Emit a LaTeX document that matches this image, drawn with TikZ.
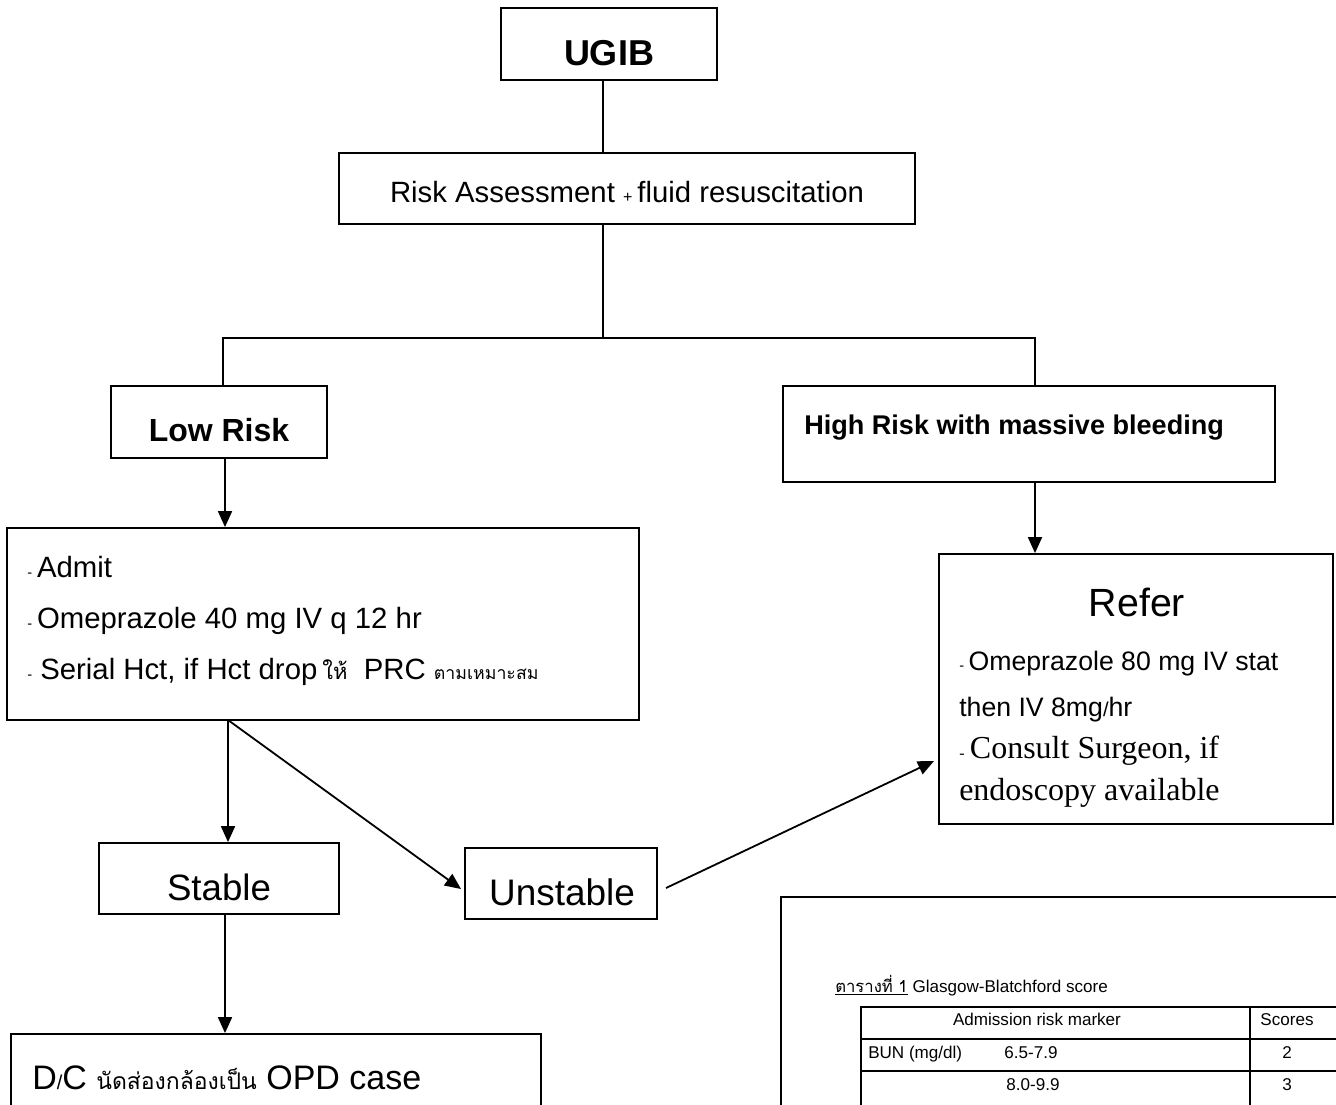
\documentclass[tikz,border=0pt]{standalone}
\usepackage{fontspec}
\setmainfont{Liberation Sans}
\newfontfamily\serifface{Liberation Serif}
\newfontfamily\thai[Script=Thai]{Loma}
\usetikzlibrary{arrows.meta,fit,calc}
\newcommand\sdash{{\fontsize{11}{11}\selectfont -}}
\newcommand\sslash{{\fontsize{15}{15}\selectfont /}}
\newcommand\splus{{\fontsize{12}{12}\selectfont +}}
\begin{document}
\begin{tikzpicture}[x=0.75pt,y=-0.75pt,
  box/.style={draw,line width=1.35pt,inner sep=0pt},
  tbox/.style={draw,line width=1.8pt,inner sep=0pt},
  conn/.style={line width=1.35pt},
  thin/.style={line width=0.8pt},
  arr/.style={line width=1.35pt,-{Triangle[length=12pt,width=10.5pt]}},
  txt/.style={inner sep=0pt,anchor=base},
  ltxt/.style={inner sep=0pt,anchor=base west},
  fa/.style={font=\fontsize{22}{26}\selectfont},
  fr/.style={font=\fontsize{20}{24}\selectfont},
  ft/.style={font=\fontsize{12.8}{15}\selectfont}]
\useasboundingbox (0,0) rectangle (1336,1104);
\clip (0,0) rectangle (1336,1104);
% boxes
\node[box,fit={(501,8)(717,80)}] (ugib) {};
\node[box,fit={(339,153)(915,224)}] (risk) {};
\node[box,fit={(111,386)(327,458)}] (low) {};
\node[box,fit={(783,386)(1275,482)}] (high) {};
\node[box,fit={(7,528)(639,720)}] (admit) {};
\node[box,fit={(939,554)(1333,824)}] (refer) {};
\node[box,fit={(99,843)(339,914)}] (stable) {};
\node[box,fit={(465,848)(657,919)}] (unst) {};
\node[box,fit={(11,1034)(541,1130)}] (dc) {};
\node[tbox,fit={(781,897)(1360,1130)}] (tab) {};
% texts
\node[txt,font=\fontsize{27}{32}\selectfont\bfseries] (tugib) at (609,65) {UGIB};
\node[txt,fa] (trisk) at (627,202) {Risk Assessment \splus\,fluid resuscitation};
\node[txt,font=\fontsize{24}{28}\selectfont\bfseries] (tlow) at (219,441) {Low Risk};
\node[ltxt,font=\fontsize{20.3}{24}\selectfont\bfseries] (thigh) at (804,434) {High Risk with massive bleeding};
\node[ltxt,fa] (ta1) at (27,577) {\sdash\,Admit};
\node[ltxt,fa] (ta2) at (27,628) {\sdash\,Omeprazole 40 mg IV q 12 hr};
\node[ltxt,fa] (ta3) at (27,679) {\sdash\ Serial Hct, if Hct drop\,{\thai\fontsize{16.5}{20}\selectfont ให้}\ \ PRC {\thai\fontsize{13.3}{16}\selectfont ตามเหมาะสม}};
\node[txt,font=\fontsize{29.5}{34}\selectfont] (trefer) at (1137,616) {Refer};
\node[ltxt,fr] (tr1) at (959,670) {\sdash\,Omeprazole 80 mg IV stat};
\node[ltxt,fr] (tr2) at (959,716) {then IV 8mg\sslash hr};
\node[ltxt,font=\fontsize{24}{28}\selectfont\serifface] (tr3) at (959,758) {{\fontsize{12}{12}\selectfont -}\,Consult Surgeon, if};
\node[ltxt,font=\fontsize{24}{28}\selectfont\serifface] (tr4) at (959,800) {endoscopy available};
\node[txt,font=\fontsize{27.5}{32}\selectfont] (tstable) at (219,900) {Stable};
\node[txt,font=\fontsize{27.7}{32}\selectfont] (tunst) at (562,905) {Unstable};
\node[ltxt,font=\fontsize{25.5}{30}\selectfont] (tdc) at (32,1089) {D\sslash C {\thai\fontsize{17.2}{22}\selectfont นัดส่องกล้องเป็น} OPD case};
% table
\node[ltxt,ft] (tcap) at (835,992) {{\thai\fontsize{12.5}{15}\selectfont\underline{ตารางที่ 1}} Glasgow-Blatchford score};
\coordinate (g1) at (861,1007);
\coordinate (g2) at (1250,1007);
\coordinate (g3) at (1360,1007);
\coordinate (g4) at (861,1039);
\coordinate (g5) at (861,1071);
\coordinate (g6) at (861,1120);
\coordinate (g7) at (1250,1120);
\draw[thin] (g6) -- (g1) -- (g3);
\draw[thin] (g2) -- (g7);
\draw[thin] (g4) -- (g4 -| g3);
\draw[thin] (g5) -- (g5 -| g3);
\node[txt,ft] (th1) at (1037,1025) {Admission risk marker};
\node[txt,ft] (th2) at (1287,1025) {Scores};
\node[ltxt,ft] (tb1) at (868,1058) {BUN (mg/dl)};
\node[txt,ft] (tb2) at (1031,1058) {6.5-7.9};
\node[txt,ft] (tb3) at (1287,1058) {2};
\node[txt,ft] (tb4) at (1033,1090) {8.0-9.9};
\node[txt,ft] (tb5) at (1287,1090) {3};
% connectors
\coordinate (jc) at (603,338);
\coordinate (jl) at (223,338);
\coordinate (jr) at (1035,338);
\coordinate (cl) at (225,500);
\coordinate (cs) at (225,980);
\coordinate (as) at (228,720);
\coordinate (us) at (461,889);
\coordinate (ua) at (666,888);
\coordinate (ub) at (934,761);
\draw[conn] (ugib.south -| jc) -- (risk.north -| jc);
\draw[conn] (risk.south -| jc) -- (jc);
\draw[conn] (low.north -| jl) -- (jl) -- (jr) -- (high.north -| jr);
\draw[arr] (low.south -| cl) -- (admit.north -| cl);
\draw[arr] (high.south -| jr) -- (refer.north -| jr);
\draw[arr] (as) -- (stable.north -| as);
\draw[arr] (as) -- (us);
\draw[arr] (ua) -- (ub);
\draw[arr] (stable.south -| cs) -- (dc.north -| cs);
\end{tikzpicture}
\end{document}
